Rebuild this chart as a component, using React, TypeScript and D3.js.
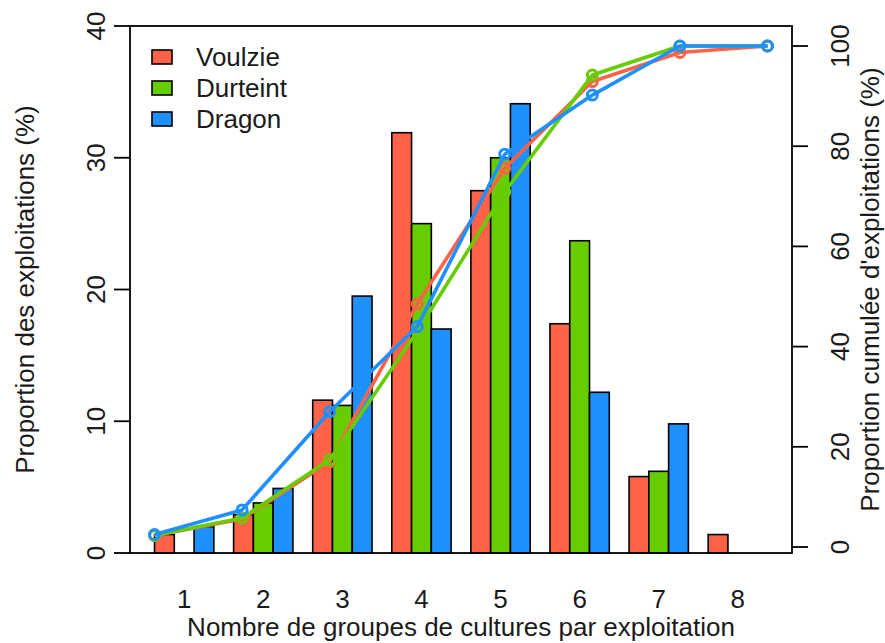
import React from "react";
import * as d3 from "d3";

const groups = ["1", "2", "3", "4", "5", "6", "7", "8"];
const seriesNames = ["Voulzie", "Durteint", "Dragon"];
const colors = ["#FF6347", "#66CD00", "#1E90FF"];

const voulzie = [1.4, 2.9, 11.6, 31.9, 27.5, 17.4, 5.8, 1.4];
const durteint = [0, 3.8, 11.2, 25.0, 30.0, 23.7, 6.2, 0];
const dragon = [2.0, 4.9, 19.5, 17.0, 34.1, 12.2, 9.8, 0];

const cumVoulzie = [2.3, 5.6, 17.0, 48.5, 75.6, 92.9, 98.7, 100];
const cumDurteint = [2.3, 5.8, 17.4, 43.0, 70.9, 94.2, 100, 100];
const cumDragon = [2.5, 7.4, 27.0, 44.0, 78.4, 90.2, 100, 100];

const leftTicks = [0, 10, 20, 30, 40];
const rightTicks = [0, 20, 40, 60, 80, 100];

const W = 885;
const H = 643;
const L = 130, R = 792, T = 26, B = 553;
const FONT = "Liberation Sans, Arial, Helvetica, sans-serif";
const FS = 26;
const TXT = "#1a1a1a";

export default function App() {
  const barData = [voulzie, durteint, dragon];
  const cumData = [cumVoulzie, cumDurteint, cumDragon];

  const xBar = d3.scaleLinear().domain([-0.24, 33.24]).range([L, R]);
  const xLine = d3.scaleLinear().domain([0.72, 8.28]).range([L, R]);
  const yLeft = d3.scaleLinear().domain([0, 40]).range([B, T]);
  const yRight = d3.scaleLinear().domain([0, 100]).range([547, 46]);

  const line = d3
    .line<number>()
    .x((_, i) => xLine(i + 1))
    .y((d) => yRight(d));

  return (
    <svg
      width={W}
      height={H}
      style={{ position: "absolute", left: 0, top: 0, background: "#fff" }}
      fontFamily={FONT}
    >
      {/* bars */}
      {groups.map((g, gi) =>
        barData.map((s, si) => {
          const x0 = xBar(1 + 4 * gi + si);
          const x1 = xBar(2 + 4 * gi + si);
          const v = s[gi];
          if (v <= 0) return null;
          return (
            <rect
              key={`b-${gi}-${si}`}
              x={x0}
              y={yLeft(v)}
              width={x1 - x0}
              height={yLeft(0) - yLeft(v)}
              fill={colors[si]}
              stroke="#000"
              strokeWidth={1.6}
            />
          );
        })
      )}

      {/* cumulative lines */}
      {cumData.map((c, si) => (
        <g key={`l-${si}`}>
          <path d={line(c) || ""} fill="none" stroke={colors[si]} strokeWidth={3.6} strokeLinejoin="round" />
          {c.map((v, i) => (
            <circle
              key={i}
              cx={xLine(i + 1)}
              cy={yRight(v)}
              r={5}
              fill="none"
              stroke={colors[si]}
              strokeWidth={3}
            />
          ))}
        </g>
      ))}

      {/* box */}
      <rect x={L} y={T} width={R - L} height={B - T} fill="none" stroke="#000" strokeWidth={1.8} />

      {/* left axis */}
      {leftTicks.map((t) => (
        <g key={`lt-${t}`}>
          <line x1={114} x2={L} y1={yLeft(t)} y2={yLeft(t)} stroke="#000" strokeWidth={1.8} />
          <text
            transform={`translate(105,${yLeft(t)}) rotate(-90)`}
            textAnchor="middle"
            fontSize={FS}
            fill={TXT}
          >
            {t}
          </text>
        </g>
      ))}
      <text
        transform={`translate(34,${(T + B) / 2}) rotate(-90)`}
        textAnchor="middle"
        fontSize={FS}
        fill={TXT}
      >
        Proportion des exploitations (%)
      </text>

      {/* right axis */}
      {rightTicks.map((t) => (
        <g key={`rt-${t}`}>
          <line x1={R} x2={808} y1={yRight(t)} y2={yRight(t)} stroke="#000" strokeWidth={1.8} />
          <text
            transform={`translate(849,${yRight(t)}) rotate(-90)`}
            textAnchor="middle"
            fontSize={FS}
            fill={TXT}
          >
            {t}
          </text>
        </g>
      ))}
      <text
        transform={`translate(879,${(T + B) / 2}) rotate(-90)`}
        textAnchor="middle"
        fontSize={FS}
        fill={TXT}
      >
        Proportion cumulée d'exploitations (%)
      </text>

      {/* x labels */}
      {groups.map((g, gi) => (
        <text
          key={`xl-${g}`}
          x={xBar(2.5 + 4 * gi)}
          y={608}
          textAnchor="middle"
          fontSize={FS}
          fill={TXT}
        >
          {g}
        </text>
      ))}
      <text x={(L + R) / 2} y={636} textAnchor="middle" fontSize={FS} fill={TXT}>
        Nombre de groupes de cultures par exploitation
      </text>

      {/* legend */}
      {seriesNames.map((n, i) => (
        <g key={`lg-${n}`}>
          <rect x={152} y={50 + 31 * i} width={20} height={14} fill={colors[i]} stroke="#000" strokeWidth={1.6} />
          <text x={196} y={66 + 31 * i} fontSize={FS} fill={TXT}>
            {n}
          </text>
        </g>
      ))}
    </svg>
  );
}
